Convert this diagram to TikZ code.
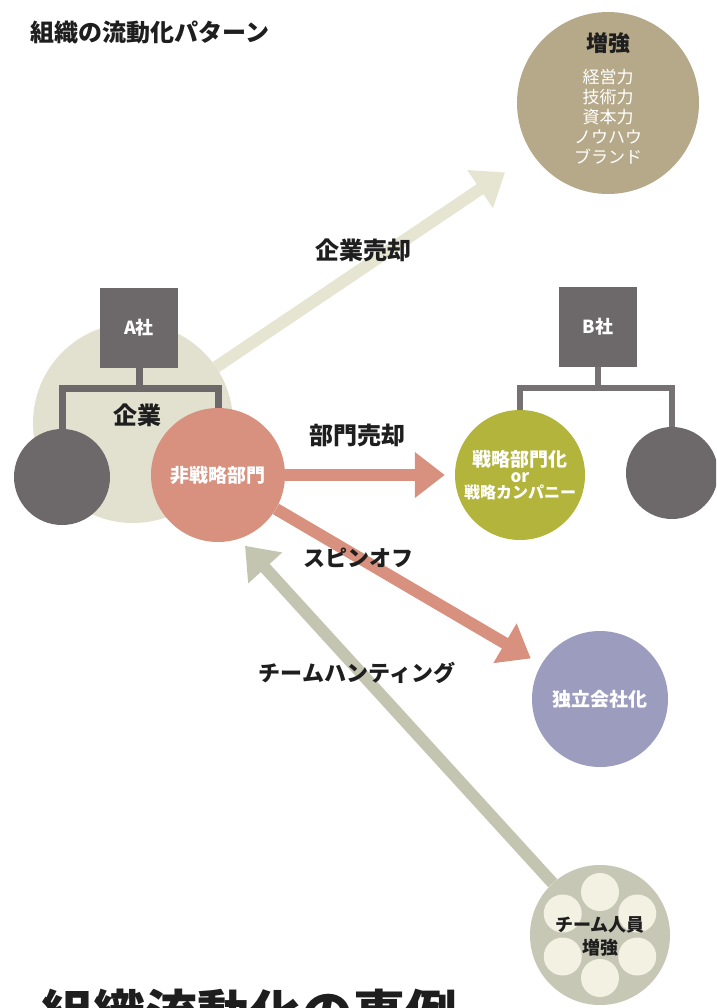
\documentclass[tikz,border=0pt]{standalone}
\usepackage{fontspec}
\setmainfont{Noto Sans CJK JP}
\usetikzlibrary{arrows.meta}
\definecolor{cBeige}{HTML}{E2E1D0}
\definecolor{cBeigeArrow}{HTML}{E5E5D1}
\definecolor{cDark}{HTML}{6D6869}
\definecolor{cDarkB}{HTML}{767273}
\definecolor{cPink}{HTML}{D8917F}
\definecolor{cOlive}{HTML}{B2B43C}
\definecolor{cLav}{HTML}{9C9CBF}
\definecolor{cTan}{HTML}{B6A98A}
\definecolor{cTeam}{HTML}{C6C7B4}
\definecolor{cTeamArrow}{HTML}{C3C5B1}
\definecolor{cCream}{HTML}{F3F1E2}
\definecolor{cText}{HTML}{1E1E1E}
\begin{document}
\begin{tikzpicture}[x=1pt,y=-1pt,
  disc/.style={circle, inner sep=0pt, align=center},
  lbl/.style={font=\bfseries\fontsize{24}{28}\selectfont, text=cText, inner sep=0pt},
  klbl/.style={font=\bfseries\fontsize{22}{26}\selectfont, text=cText, inner sep=0pt},
  wtxt/.style={text=white, font=\bfseries\fontsize{19}{22}\selectfont, align=center},
  bigarrow/.style={line width=12pt, -{Triangle[length=30pt,width=44pt]}},
  treeA/.style={line width=7pt, draw=cDark, line join=miter},
  treeB/.style={line width=6pt, draw=cDarkB, line join=miter},
  sq/.style={inner sep=0pt, minimum width=78pt, minimum height=80pt, text=white, font=\bfseries\fontsize{18}{20}\selectfont}
]
\clip (0,0) rectangle (716,1008);
\fill[white] (0,0) rectangle (716,1008);

% title
\node[lbl, anchor=west] (title) at (30,32) {組織の流動化パターン};

% top right circle
\node[disc, fill=cTan, minimum size=182pt] (zoukyou) at (608,103) {};
\node[font=\bfseries\fontsize{22}{24}\selectfont, text=cText] (zkTitle) at (608,43) {増強};
\node[text=white, font=\fontsize{17}{20}\selectfont, align=center] (zkList) at (608,117) {経営力\\技術力\\資本力\\ノウハウ\\ブランド};

% company A
\node[disc, fill=cBeige, minimum size=200pt] (Acirc) at (133,423) {};
\coordinate (Abar) at (139,388);
\node[sq, fill=cDark] (Asha) at (139,328) {A社};
\node[disc, fill=cDark, minimum size=96pt] (Agray) at (62,477) {};
\node[disc, fill=cPink, minimum size=134pt, wtxt] (nonstrat) at (218,475) {非戦略部門};
\draw[treeA] (Asha.south) -- (Abar);
\draw[treeA] (Agray.north) -- (Agray.north |- Abar) -- (nonstrat.north |- Abar) -- (nonstrat.north);
\node[lbl] (kigyo) at (137,415) {企業};

% company B
\node[sq, fill=cDark] (Bsha) at (598,327) {B社};
\coordinate (Bbar) at (598,388);
\node[disc, fill=cOlive, minimum size=130pt, text=white, font=\bfseries\fontsize{17}{16}\selectfont] (strat) at (520,475) {\fontsize{19}{16}\selectfont 戦略部門化\\or\\\fontsize{16}{16}\selectfont 戦略カンパニー};
\node[disc, fill=cDark, minimum size=92pt] (Bgray) at (672,473) {};
\draw[treeB] (Bsha.south) -- (Bbar);
\draw[treeB] (strat.north) -- (strat.north |- Bbar) -- (Bgray.north |- Bbar) -- (Bgray.north);

% independent company
\node[disc, fill=cLav, minimum size=136pt, wtxt] (indep) at (600,699) {独立会社化};

% team circle
\node[disc, fill=cTeam, minimum size=140pt] (team) at (600,935) {};
\foreach \a [count=\i] in {90,30,-30,-90,-150,150}
  \node[disc, fill=cCream, minimum size=38pt] (member\i) at ([shift={(\a:43)}]team.center) {};
\node[font=\bfseries\fontsize{18}{23}\selectfont, text=cText, align=center] (teamtxt) at (600,936) {チーム人員\\増強};

% arrows
\draw[bigarrow, draw=cBeigeArrow, fill=cBeigeArrow, shorten >=33pt] (Acirc) -- (zoukyou);
\draw[bigarrow, draw=cPink, fill=cPink, shorten >=10pt] (nonstrat) -- (strat);
\draw[bigarrow, draw=cPink, fill=cPink, shorten >=12pt] (nonstrat) -- (indep);
\draw[bigarrow, draw=cTeamArrow, fill=cTeamArrow, shorten >=66pt] (team) -- (Acirc);

% labels
\node[lbl] (lblSale) at (363,250) {企業売却};
\node[lbl] (lblDiv) at (357,435) {部門売却};
\node[klbl] (lblSpin) at (358,558) {スピンオフ};
\node[klbl] (lblHunt) at (357,673) {チームハンティング};

% bottom heading (cut off)
\node[anchor=base west, inner sep=0pt, font=\bfseries\fontsize{52}{52}\selectfont, text=cText] (bottomTitle) at (41,1033) {組織流動化の事例};
\end{tikzpicture}
\end{document}
